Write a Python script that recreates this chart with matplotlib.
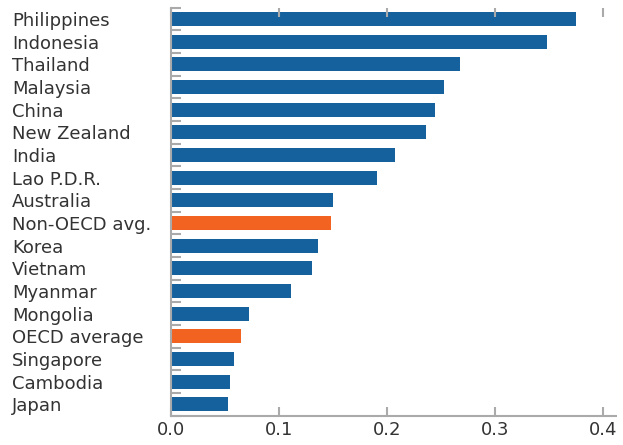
import matplotlib.pyplot as plt
from matplotlib.transforms import blended_transform_factory

countries = ['Philippines', 'Indonesia', 'Thailand', 'Malaysia', 'China',
             'New Zealand', 'India', 'Lao P.D.R.', 'Australia', 'Non-OECD avg.',
             'Korea', 'Vietnam', 'Myanmar', 'Mongolia', 'OECD average',
             'Singapore', 'Cambodia', 'Japan']
values = [0.375, 0.348, 0.268, 0.253, 0.244, 0.236, 0.207, 0.191, 0.150,
          0.148, 0.136, 0.131, 0.111, 0.072, 0.065, 0.059, 0.055, 0.053]
highlight = ['Non-OECD avg.', 'OECD average']
xticks = [0.0, 0.1, 0.2, 0.3, 0.4]

BLUE = '#15619e'
ORANGE = '#f26322'
GRAY = '#aaaaaa'
TEXT = '#333333'

fig = plt.figure(figsize=(6.23, 4.45), dpi=100)
ax = fig.add_axes([0.274, 0.066, 0.715, 0.917])

colors = [ORANGE if c in highlight else BLUE for c in countries]
ypos = list(range(len(countries)))
ax.barh(ypos, values, height=0.62, color=colors)
ax.set_ylim(len(countries) - 0.5, -0.5)
ax.set_xlim(0, 0.412)

# country labels, left aligned at the figure edge
trans = blended_transform_factory(fig.transFigure, ax.transData)
for y, name in zip(ypos, countries):
    ax.text(12 / 623, y, name, transform=trans, ha='left', va='center_baseline',
            fontsize=13, color=TEXT)

ax.set_yticks([y - 0.5 for y in ypos] + [len(countries) - 0.5])
ax.set_yticklabels([])
ax.tick_params(axis='y', direction='in', length=7, width=1.5, color=GRAY)

ax.set_xticks(xticks)
ax.set_xticklabels([f'{t:.1f}' for t in xticks])
ax.tick_params(axis='x', direction='in', length=6.5, width=1.5, color=GRAY,
               labelsize=13, labelcolor=TEXT, pad=4, top=True)

for side in ['top', 'right']:
    ax.spines[side].set_visible(False)
for side in ['left', 'bottom']:
    ax.spines[side].set_color(GRAY)
    ax.spines[side].set_linewidth(1.5)

fig.savefig('out.png', dpi=100)
